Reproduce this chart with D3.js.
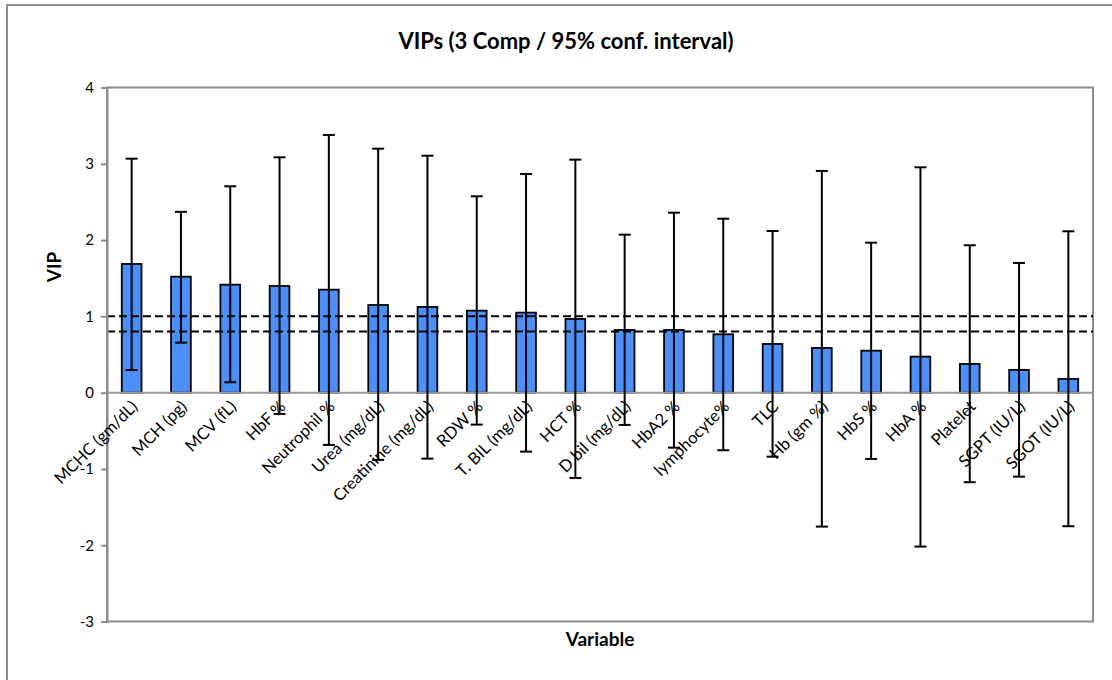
<!DOCTYPE html>
<html>
<head>
<meta charset="utf-8">
<script src="https://cdn.jsdelivr.net/npm/d3@7/dist/d3.min.js"></script>
<style>
  body { margin: 0; background: #fff; }
  svg text { font-family: Lato, "Open Sans", sans-serif; fill: #000; }
</style>
</head>
<body>
<svg id="chart"></svg>
<script>
var categories = ["MCHC (gm/dL)", "MCH (pg)", "MCV (fL)", "HbF %", "Neutrophil %", "Urea (mg/dL)",
    "Creatinine (mg/dL)", "RDW %", "T. BIL (mg/dL)", "HCT %", "D bil (mg/dL)", "HbA2 %",
    "lymphocyte%", "TLC", "Hb (gm %)", "HbS %", "HbA %", "Platelet", "SGPT (IU/L)", "SGOT (IU/L)"];
var vip = [1.687, 1.52, 1.415, 1.398, 1.35, 1.149, 1.123, 1.075, 1.049, 0.966, 0.822, 0.822,
    0.765, 0.638, 0.586, 0.55, 0.472, 0.376, 0.298, 0.18];
var ciLow = [0.297, 0.655, 0.136, -0.279, -0.685, -0.882, -0.865, -0.419, -0.773, -1.118, -0.423, -0.721,
    -0.755, -0.839, -1.756, -0.869, -2.018, -1.174, -1.101, -1.751];
var ciHigh = [3.067, 2.37, 2.705, 3.085, 3.377, 3.198, 3.106, 2.574, 2.866, 3.054, 2.071, 2.359,
    2.28, 2.119, 2.906, 1.966, 2.954, 1.932, 1.70, 2.115];
var thresholds = [1, 0.8];
var yTicks = [-3, -2, -1, 0, 1, 2, 3, 4];

var W = 1112, H = 680;
var margin = {top: 87.5, right: 19, bottom: 58.5, left: 107};
var width = W - margin.left - margin.right,
    height = H - margin.top - margin.bottom;

var data = categories.map(function (c, i) {
    return {name: c, vip: vip[i], lo: ciLow[i], hi: ciHigh[i]};
});

var svg = d3.select("#chart")
    .attr("width", W)
    .attr("height", H);

// outer chart frame (runs off the right/bottom edge)
svg.append("rect")
    .attr("x", 7).attr("y", 5)
    .attr("width", W + 20).attr("height", H + 20)
    .attr("fill", "none")
    .attr("stroke", "#8c8c8c")
    .attr("stroke-width", 2);

var g = svg.append("g")
    .attr("transform", "translate(" + margin.left + "," + margin.top + ")");

var x = d3.scaleBand()
    .domain(categories)
    .range([0, width])
    .paddingInner(0.6)
    .paddingOuter(0.3);

var y = d3.scaleLinear()
    .domain([-3, 4])
    .range([height, 0]);

// plot border
g.append("rect")
    .attr("width", width)
    .attr("height", height)
    .attr("fill", "none")
    .attr("stroke", "#8c8c8c")
    .attr("stroke-width", 2);

// bars
g.selectAll("rect.bar")
    .data(data)
    .enter()
    .append("rect")
    .attr("class", "bar")
    .attr("x", function (d) { return x(d.name); })
    .attr("y", function (d) { return y(d.vip); })
    .attr("width", x.bandwidth())
    .attr("height", function (d) { return y(0) - y(d.vip); })
    .attr("fill", "#4a90fb")
    .attr("stroke", "#000")
    .attr("stroke-width", 1.8);

// zero line
g.append("line")
    .attr("x1", 0).attr("x2", width)
    .attr("y1", y(0)).attr("y2", y(0))
    .attr("stroke", "#9a9a9a")
    .attr("stroke-width", 2);

// threshold lines
g.selectAll("line.thr")
    .data(thresholds)
    .enter()
    .append("line")
    .attr("class", "thr")
    .attr("x1", 0).attr("x2", width)
    .attr("y1", function (d) { return y(d); })
    .attr("y2", function (d) { return y(d); })
    .attr("stroke", "#000")
    .attr("stroke-width", 2)
    .attr("stroke-dasharray", "8,4");

// error bars
var err = g.selectAll("g.err")
    .data(data)
    .enter()
    .append("g")
    .attr("class", "err")
    .attr("transform", function (d) {
        return "translate(" + (x(d.name) + x.bandwidth() / 2) + ",0)";
    });

err.append("line")
    .attr("y1", function (d) { return y(d.lo); })
    .attr("y2", function (d) { return y(d.hi); })
    .attr("stroke", "#000")
    .attr("stroke-width", 2);

err.selectAll("line.cap")
    .data(function (d) { return [d.lo, d.hi]; })
    .enter()
    .append("line")
    .attr("class", "cap")
    .attr("x1", -6).attr("x2", 6)
    .attr("y1", function (v) { return y(v); })
    .attr("y2", function (v) { return y(v); })
    .attr("stroke", "#000")
    .attr("stroke-width", 2);

// y axis
var yAxis = g.append("g")
    .call(d3.axisLeft(y).tickValues(yTicks).tickSize(6).tickPadding(7).tickFormat(d3.format("d")));
yAxis.select(".domain").attr("stroke", "#8c8c8c").attr("stroke-width", 2);
yAxis.selectAll(".tick line").attr("stroke", "#8c8c8c").attr("stroke-width", 2);
yAxis.selectAll(".tick text")
    .style("font-size", "15px")
    .text(function (d) { return d < 0 ? "-" + Math.abs(d) : d; });

// category labels, rotated
g.selectAll("text.xlab")
    .data(data)
    .enter()
    .append("text")
    .attr("class", "xlab")
    .attr("text-anchor", "end")
    .attr("transform", function (d) {
        return "translate(" + (x(d.name) + x.bandwidth() / 2 + 7) + "," + (y(0) + 15) + ") rotate(-45)";
    })
    .style("font-size", "16.5px")
    .text(function (d) { return d.name; });

// titles
svg.append("text")
    .attr("x", 566)
    .attr("y", 49)
    .attr("text-anchor", "middle")
    .style("font-size", "22px")
    .style("font-weight", "bold")
    .text("VIPs (3 Comp / 95% conf. interval)");

svg.append("text")
    .attr("x", margin.left + width / 2)
    .attr("y", 646)
    .attr("text-anchor", "middle")
    .style("font-size", "19px")
    .style("font-weight", "bold")
    .text("Variable");

svg.append("text")
    .attr("transform", "translate(61," + y(0.5) + ") rotate(-90)")
    .attr("text-anchor", "middle")
    .style("font-size", "19px")
    .style("font-weight", "bold")
    .text("VIP");
</script>
</body>
</html>
